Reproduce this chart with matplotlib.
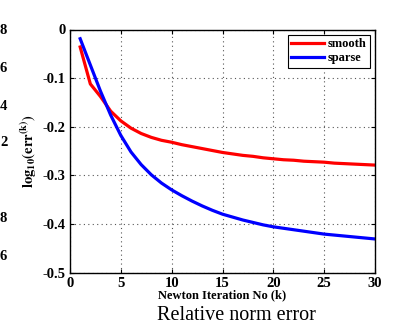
import matplotlib
matplotlib.use("Agg")
import matplotlib.pyplot as plt

# Newton iterations and log10 relative norm error for each prior
iterations = list(range(1, 31))
smooth_err = [-0.036, -0.112, -0.138, -0.168, -0.188, -0.203, -0.214, -0.222, -0.228, -0.232,
              -0.237, -0.241, -0.245, -0.249, -0.253, -0.256, -0.259, -0.261, -0.264, -0.266,
              -0.268, -0.269, -0.271, -0.272, -0.273, -0.275, -0.276, -0.277, -0.278, -0.279]
sparse_err = [-0.019, -0.073, -0.127, -0.176, -0.218, -0.252, -0.278, -0.299, -0.316, -0.330,
              -0.342, -0.353, -0.363, -0.372, -0.380, -0.386, -0.392, -0.397, -0.402, -0.406,
              -0.409, -0.412, -0.415, -0.418, -0.421, -0.423, -0.425, -0.427, -0.429, -0.431]
x_ticks = [0, 5, 10, 15, 20, 25, 30]
y_ticks = [0, -0.1, -0.2, -0.3, -0.4, -0.5]
y_tick_labels = ["0", "-0.1", "-0.2", "-0.3", "-0.4", "-0.5"]

# leftover tick digits of the neighbouring panel (cropped at the left edge)
edge_digits = ["8", "6", "4", "2", "8", "6"]
edge_digit_y = [31, 69, 107, 143, 218, 257]

plt.rcParams['font.family'] = ['Liberation Serif', 'DejaVu Serif']
plt.rcParams['mathtext.fontset'] = 'stix'

fig = plt.figure(figsize=(3.97, 3.25), dpi=100)
W, H = 397, 325
ax = fig.add_axes([70 / W, 1 - 272.5 / H, 305 / W, 243 / H])

ax.plot(iterations, smooth_err, color='red', lw=2.3, label='smooth')
ax.plot(iterations, sparse_err, color='blue', lw=2.3, label='sparse')

ax.set_xlim(0, 30)
ax.set_ylim(-0.5, 0)
ax.set_xticks(x_ticks)
ax.set_xticklabels([str(t) for t in x_ticks], fontweight='bold', fontsize=10.5)
ax.set_yticks(y_ticks)
ax.set_yticklabels(y_tick_labels, fontweight='bold', fontsize=10.5)
ax.tick_params(direction='in', length=3, top=True, right=True, pad=3)
ax.grid(True, linestyle=(0, (1, 3)), color='#555555', lw=0.8)
for s in ax.spines.values():
    s.set_linewidth(1.0)

ax.set_xlabel("Newton Iteration No (k)", fontweight='bold', fontsize=9, labelpad=0)
ax.set_ylabel(r"$\mathbf{log_{10}(err^{(k)})}$", fontsize=10.5, labelpad=3)

leg = ax.legend(loc='upper right', prop={'weight': 'bold', 'size': 9},
                handlelength=2.6, handletextpad=0.3, borderpad=0.3,
                labelspacing=0.15, fancybox=False, framealpha=1,
                borderaxespad=0.4)
leg.get_frame().set_edgecolor('black')
leg.get_frame().set_linewidth(0.8)

fig.text(236 / W, 1 - 315 / H, "Relative norm error", ha='center', va='center', fontsize=14.5)

for d, y in zip(edge_digits, edge_digit_y):
    fig.text(0, 1 - y / H, d, ha='left', va='center', fontsize=10.5, fontweight='bold')

fig.savefig("out.png", dpi=100)
